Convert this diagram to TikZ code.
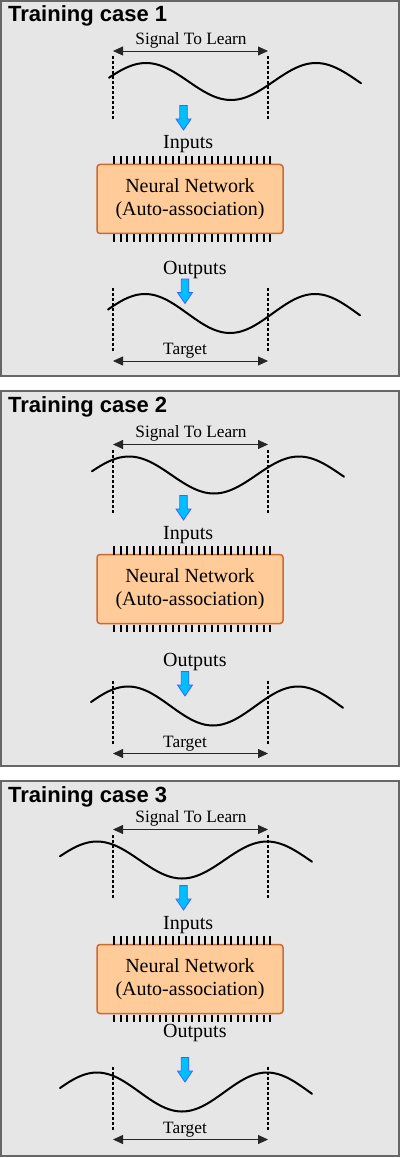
\documentclass[tikz,border=0pt]{standalone}
\usepackage{fontspec}
\setmainfont{Liberation Serif}
\newfontfamily\bodyfont{Liberation Serif}
\newfontfamily\headfont{Liberation Sans}
\definecolor{PanelGray}{RGB}{230,230,230}
\definecolor{PanelEdge}{RGB}{102,102,102}
\definecolor{NetFill}{RGB}{255,204,153}
\definecolor{NetEdge}{RGB}{208,104,48}
\definecolor{FlowCyan}{RGB}{0,191,255}
\definecolor{FlowBlue}{RGB}{51,102,255}
\usepackage{tikz}
\usetikzlibrary{arrows.meta}

\begin{document}
\begin{tikzpicture}[x=1pt,y=-1pt,
	panel/.style={draw=PanelEdge,fill=PanelGray,line width=1.2pt},
	wave/.style={line width=2pt,line cap=round},
	guide/.style={line width=1.4pt,dash pattern=on 3pt off 2pt},
	dimarrow/.style={black!85,line width=0.8pt,{Triangle[length=10pt,width=9pt]}-{Triangle[length=10pt,width=9pt]}},
	flow/.style={draw=FlowBlue,fill=FlowCyan,line width=0.8pt},
	netbox/.style={draw=NetEdge,fill=NetFill,line width=1.5pt,rounded corners=3pt,
		minimum width=186pt,minimum height=69pt,align=center,font=\bodyfont\fontsize{20}{23}\selectfont},
	pin/.style={line width=2pt},
	lbl/.style={font=\bodyfont\fontsize{20}{24}\selectfont,inner sep=0pt},
	dimlbl/.style={font=\bodyfont\fontsize{17.3}{20}\selectfont,inner sep=0pt}]
\useasboundingbox (0,0) rectangle (400,1158);
\foreach \k/\t/\xi/\ci/\xo/\co/\oy in {1/1/146/80.5/145/312.5/273, 2/391/129/84/128/315/275, 3/781/97/79/97/311/256}{
	\draw[panel] (1,\t) rectangle (399,\t+375);
	\node[anchor=base west,inner sep=0pt,font=\headfont\bfseries\fontsize{22}{26}\selectfont] (title\k) at (8,\t+21) {Training case \k};
	% signal to learn
	\pgfmathsetmacro{\cin}{\t+\ci}
	\pgfmathsetmacro{\wa}{\xi-37}
	\pgfmathsetmacro{\wb}{\xi+215}
	\draw[wave] plot[domain=\wa:\wb,samples=90,smooth] (\x,{\cin-18.5*cos(((\x-\xi)/170)*360)});
	\draw[guide] (113,\cin-25) -- (113,\cin+38);
	\draw[guide] (268,\cin-25) -- (268,\cin+38);
	\coordinate (sl\k) at (113,\cin-30.5);
	\coordinate (sr\k) at (268,\cin-30.5);
	\draw[dimarrow] (sl\k) -- (sr\k);
	\node[dimlbl,anchor=base] (sig\k) at (191,\cin-37.3) {Signal To Learn};
	\coordinate (ia\k) at (183.5,\t+104.5);
	\draw[flow,shift={(ia\k)}] (-3.75,0) -- (3.75,0) -- (3.75,13.5) -- (7.5,13.5) -- (0,24.5) -- (-7.5,13.5) -- (-3.75,13.5) -- cycle;
	% network
	\node[lbl,anchor=base west] (in\k) at (163,\t+148) {Inputs};
	\node[netbox] (net\k) at (190,\t+198) {Neural Network\\(Auto-association)};
	\foreach \i in {0,...,24}{
		\draw[pin] (114+6.5*\i,\t+155) -- (114+6.5*\i,\t+163.5);
		\draw[pin] (114+6.5*\i,\t+233.5) -- (114+6.5*\i,\t+241);
	}
	\node[lbl,anchor=base west] (out\k) at (163,\t+\oy) {Outputs};
	% target
	\pgfmathsetmacro{\cout}{\t+\co}
	\pgfmathsetmacro{\va}{\xo-37}
	\pgfmathsetmacro{\vb}{\xo+215}
	\coordinate (oa\k) at (185,\cout-34.5);
	\draw[flow,shift={(oa\k)}] (-3.75,0) -- (3.75,0) -- (3.75,13.5) -- (7.5,13.5) -- (0,24.5) -- (-7.5,13.5) -- (-3.75,13.5) -- cycle;
	\draw[wave] plot[domain=\va:\vb,samples=90,smooth] (\x,{\cout-19.5*cos(((\x-\xo)/170)*360)});
	\draw[guide] (113,\cout-25.5) -- (113,\cout+38.5);
	\draw[guide] (268,\cout-25.5) -- (268,\cout+38.5);
	\coordinate (tl\k) at (113,\cout+47.5);
	\coordinate (tr\k) at (268,\cout+47.5);
	\draw[dimarrow] (tl\k) -- (tr\k);
	\node[dimlbl,anchor=base] (tgt\k) at (185,\cout+41.3) {Target};
}
\end{tikzpicture}
\end{document}
